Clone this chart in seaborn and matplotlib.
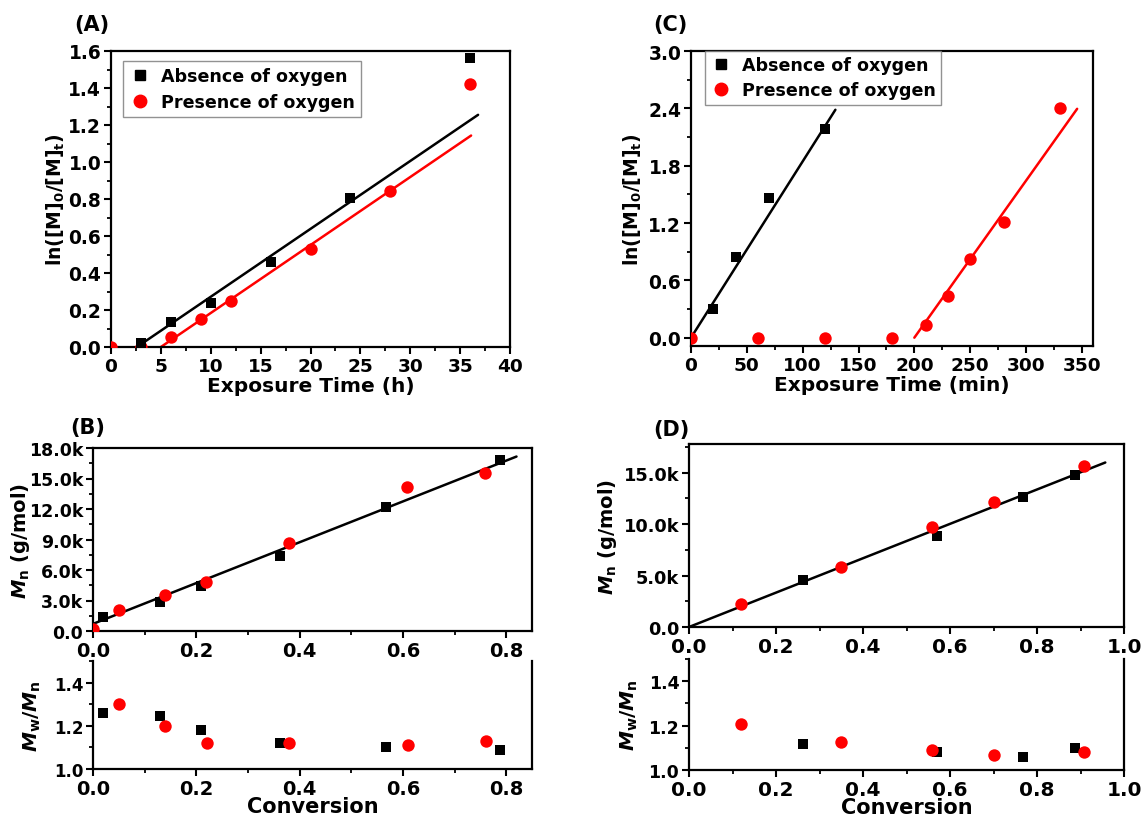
import numpy as np
import pandas as pd
import matplotlib
matplotlib.use("Agg")
import matplotlib.pyplot as plt
from matplotlib.ticker import MultipleLocator, FuncFormatter
from matplotlib.lines import Line2D
import seaborn as sns

# ---------------- data ----------------
# (A) kinetics, exposure time in hours
a_abs_t = [3, 6, 10, 16, 24, 36]
a_abs_ln = [0.02, 0.135, 0.237, 0.457, 0.805, 1.56]
a_pre_t = [0, 3, 6, 9, 12, 20, 28, 36]
a_pre_ln = [0.0, 0.0, 0.054, 0.15, 0.249, 0.529, 0.843, 1.423]
a_fit_abs_t = [2.6, 36.8]
a_fit_abs_ln = [0.0, 1.255]
a_fit_pre_t = [5.0, 36.1]
a_fit_pre_ln = [0.0, 1.143]

# (C) kinetics, exposure time in minutes
c_abs_t = [20, 40, 70, 120]
c_abs_ln = [0.304, 0.846, 1.46, 2.185]
c_pre_t = [0, 60, 120, 180, 210, 230, 250, 280, 330]
c_pre_ln = [0.0, 0.0, 0.0, 0.0, 0.129, 0.437, 0.822, 1.206, 2.406]
c_fit_abs_t = [0, 129.3]
c_fit_abs_ln = [0.0, 2.385]
c_fit_pre_t = [200, 345.8]
c_fit_pre_ln = [0.0, 2.395]

# (B) molecular weight vs conversion
b_abs_conv = [0.02, 0.13, 0.21, 0.363, 0.567, 0.788]
b_abs_mn = [1400, 2860, 4390, 7420, 12240, 16860]
b_abs_pdi = [1.26, 1.244, 1.181, 1.121, 1.10, 1.09]
b_pre_conv = [0.0, 0.05, 0.14, 0.218, 0.379, 0.608, 0.759]
b_pre_mn = [200, 2100, 3500, 4800, 8630, 14160, 15560]
b_pre_pdi_conv = [0.05, 0.14, 0.22, 0.38, 0.61, 0.76]
b_pre_pdi = [1.30, 1.20, 1.12, 1.12, 1.11, 1.13]
b_fit_conv = [0.0, 0.82]
b_fit_mn = [700, 17160]

# (D) molecular weight vs conversion
d_abs_conv = [0.262, 0.57, 0.767, 0.888]
d_abs_mn = [4580, 8900, 12660, 14740]
d_abs_pdi = [1.119, 1.081, 1.058, 1.098]
d_pre_conv = [0.12, 0.349, 0.559, 0.70, 0.908]
d_pre_mn = [2200, 5870, 9690, 12170, 15660]
d_pre_pdi = [1.206, 1.127, 1.089, 1.067, 1.079]
d_fit_conv = [0.0, 0.957]
d_fit_mn = [0, 16000]

labels = ["Absence of oxygen", "Presence of oxygen"]

# ---------------- style ----------------
sns.set_theme(style="ticks")
plt.rcParams["font.family"] = ["DejaVu Sans"]
plt.rcParams["font.weight"] = "bold"
plt.rcParams["axes.labelweight"] = "bold"
plt.rcParams["text.color"] = "black"
plt.rcParams["axes.labelcolor"] = "black"
plt.rcParams["xtick.color"] = "black"
plt.rcParams["ytick.color"] = "black"
plt.rcParams["axes.edgecolor"] = "black"
plt.rcParams["mathtext.fontset"] = "custom"
plt.rcParams["mathtext.rm"] = "DejaVu Sans:bold"
plt.rcParams["mathtext.it"] = "DejaVu Sans:italic:bold"
plt.rcParams["mathtext.bf"] = "DejaVu Sans:bold"

RED = "#ff0000"
W, H = 1142, 820
fig = plt.figure(figsize=(W / 100, H / 100), dpi=100)


def add_box(x0, y0, x1, y1):
    return fig.add_axes([x0 / W, 1 - y1 / H, (x1 - x0) / W, (y1 - y0) / H])


def style_axes(ax, xsize, ysize, top=True):
    for side in ["left", "bottom", "right", "top"]:
        ax.spines[side].set_linewidth(1.6)
        ax.spines[side].set_color("black")
    if not top:
        ax.spines["top"].set_visible(False)
    ax.tick_params(which="major", direction="out", length=5, width=1.5,
                   colors="black", top=False, right=False)
    ax.tick_params(which="minor", direction="out", length=3, width=1.3,
                   colors="black", top=False, right=False)
    ax.tick_params(axis="x", labelsize=xsize, pad=2)
    ax.tick_params(axis="y", labelsize=ysize, pad=2)
    for lab in ax.get_xticklabels() + ax.get_yticklabels():
        lab.set_fontweight("bold")
    ax.set_facecolor("white")


def pts(ax, x, y, kind, size=None, zorder=3):
    if kind == "abs":
        sns.scatterplot(x=x, y=y, ax=ax, marker="s", color="black",
                        s=size or 58, linewidth=0, zorder=zorder, legend=False)
    else:
        sns.scatterplot(x=x, y=y, ax=ax, marker="o", color=RED,
                        s=size or 80, linewidth=0, zorder=zorder, legend=False)


def fit(ax, x, y, color):
    sns.lineplot(x=x, y=y, ax=ax, color=color, linewidth=1.8,
                 zorder=2, estimator=None, sort=False)


def kfmt(v, _):
    if abs(v) < 1e-9:
        return "0.0"
    return f"{v / 1000:.1f}k"


handles = [
    Line2D([], [], marker="s", color="black", linestyle="none", markersize=7.5),
    Line2D([], [], marker="o", color=RED, linestyle="none", markersize=9),
]

# ---------------- (A) ----------------
axA = add_box(111, 52, 510, 348)
pts(axA, a_pre_t, a_pre_ln, "pre", zorder=3)
pts(axA, a_abs_t, a_abs_ln, "abs", zorder=4)
fit(axA, a_fit_abs_t, a_fit_abs_ln, "black")
fit(axA, a_fit_pre_t, a_fit_pre_ln, RED)
axA.set_xlim(0, 40)
axA.set_ylim(0, 1.6)
axA.xaxis.set_major_locator(MultipleLocator(5))
axA.xaxis.set_minor_locator(MultipleLocator(2.5))
axA.yaxis.set_major_locator(MultipleLocator(0.2))
axA.yaxis.set_minor_locator(MultipleLocator(0.1))
axA.xaxis.set_major_formatter(FuncFormatter(lambda v, _: f"{v:.0f}"))
axA.yaxis.set_major_formatter(FuncFormatter(lambda v, _: f"{v:.1f}"))
style_axes(axA, 13.3, 13.4)
axA.set_xlabel("Exposure Time (h)", fontsize=14.5, fontweight="bold", labelpad=1)
axA.set_ylabel(r"ln([M]$_\mathrm{0}$/[M]$_\mathrm{t}$)", fontsize=13.5,
               fontweight="bold", labelpad=1)
legA = axA.legend(handles, labels, loc="upper left", bbox_to_anchor=(0.03, 0.965),
                  frameon=True, fancybox=False, edgecolor="#777777",
                  prop={"size": 12.6, "weight": "bold"}, handletextpad=0.6,
                  borderpad=0.35, labelspacing=0.45, handlelength=1.2,
                  borderaxespad=0)
legA.get_frame().set_linewidth(1.0)
fig.text(74 / W, 1 - 25 / H, "(A)", fontsize=15, fontweight="bold", va="center")

# ---------------- (C) ----------------
axC = add_box(691, 52, 1093, 347)
pts(axC, c_abs_t, c_abs_ln, "abs", zorder=3)
pts(axC, c_pre_t, c_pre_ln, "pre", zorder=4)
fit(axC, c_fit_abs_t, c_fit_abs_ln, "black")
fit(axC, c_fit_pre_t, c_fit_pre_ln, RED)
axC.set_xlim(0, 360)
axC.set_ylim(-0.087, 3.0)
axC.xaxis.set_major_locator(MultipleLocator(50))
axC.xaxis.set_minor_locator(MultipleLocator(25))
axC.yaxis.set_major_locator(MultipleLocator(0.6))
axC.yaxis.set_minor_locator(MultipleLocator(0.3))
axC.xaxis.set_major_formatter(FuncFormatter(lambda v, _: f"{v:.0f}"))
axC.yaxis.set_major_formatter(FuncFormatter(lambda v, _: f"{v:.1f}"))
style_axes(axC, 13.3, 13.4)
axC.set_xlabel("Exposure Time (min)", fontsize=14.5, fontweight="bold", labelpad=1)
axC.set_ylabel(r"ln([M]$_\mathrm{0}$/[M]$_\mathrm{t}$)", fontsize=13.5,
               fontweight="bold", labelpad=3)
legC = axC.legend(handles, labels, loc="upper left", bbox_to_anchor=(0.035, 1.0),
                  frameon=True, fancybox=False, edgecolor="#777777",
                  prop={"size": 12.6, "weight": "bold"}, handletextpad=0.6,
                  borderpad=0.3, labelspacing=0.4, handlelength=1.2,
                  borderaxespad=0)
legC.get_frame().set_linewidth(1.0)
fig.text(653 / W, 1 - 25 / H, "(C)", fontsize=15, fontweight="bold", va="center")

# ---------------- (B) ----------------
axB = add_box(93, 449, 532, 632)
pts(axB, b_abs_conv, b_abs_mn, "abs", zorder=3)
pts(axB, b_pre_conv, b_pre_mn, "pre", zorder=4)
fit(axB, b_fit_conv, b_fit_mn, "black")
axB.set_xlim(0, 0.85)
axB.set_ylim(0, 18000)
axB.xaxis.set_major_locator(MultipleLocator(0.2))
axB.xaxis.set_minor_locator(MultipleLocator(0.1))
axB.yaxis.set_major_locator(MultipleLocator(3000))
axB.yaxis.set_minor_locator(MultipleLocator(1500))
axB.xaxis.set_major_formatter(FuncFormatter(lambda v, _: f"{v:.1f}"))
axB.yaxis.set_major_formatter(FuncFormatter(kfmt))
style_axes(axB, 14, 12.5)
axB.set_ylabel(r"$M_\mathrm{n}$ (g/mol)", fontsize=14, fontweight="bold", labelpad=-2)
fig.text(70 / W, 1 - 428 / H, "(B)", fontsize=15, fontweight="bold", va="center")

axBb = add_box(93, 662, 532, 770)
pts(axBb, b_abs_conv, b_abs_pdi, "abs", zorder=3)
pts(axBb, b_pre_pdi_conv, b_pre_pdi, "pre", zorder=4)
axBb.set_xlim(0, 0.85)
axBb.set_ylim(1.0, 1.5)
axBb.xaxis.set_major_locator(MultipleLocator(0.2))
axBb.xaxis.set_minor_locator(MultipleLocator(0.1))
axBb.yaxis.set_major_locator(MultipleLocator(0.2))
axBb.yaxis.set_minor_locator(MultipleLocator(0.1))
axBb.xaxis.set_major_formatter(FuncFormatter(lambda v, _: f"{v:.1f}"))
axBb.yaxis.set_major_formatter(FuncFormatter(lambda v, _: f"{v:.1f}"))
style_axes(axBb, 14, 12, top=False)
axBb.set_xlabel("Conversion", fontsize=15, fontweight="bold", labelpad=-1)
axBb.set_ylabel(r"$M_\mathrm{w}/M_\mathrm{n}$", fontsize=14.5, fontweight="bold", labelpad=8)

# ---------------- (D) ----------------
axD = add_box(689, 445, 1124, 628)
pts(axD, d_abs_conv, d_abs_mn, "abs", zorder=3)
pts(axD, d_pre_conv, d_pre_mn, "pre", zorder=4)
fit(axD, d_fit_conv, d_fit_mn, "black")
axD.set_xlim(0, 1.0)
axD.set_ylim(0, 17800)
axD.xaxis.set_major_locator(MultipleLocator(0.2))
axD.xaxis.set_minor_locator(MultipleLocator(0.1))
axD.yaxis.set_major_locator(MultipleLocator(5000))
axD.yaxis.set_minor_locator(MultipleLocator(2500))
axD.xaxis.set_major_formatter(FuncFormatter(lambda v, _: f"{v:.1f}"))
axD.yaxis.set_major_formatter(FuncFormatter(kfmt))
style_axes(axD, 14.5, 12.8)
axD.set_ylabel(r"$M_\mathrm{n}$ (g/mol)", fontsize=14, fontweight="bold", labelpad=3)
fig.text(653 / W, 1 - 430 / H, "(D)", fontsize=15, fontweight="bold", va="center")

axDb = add_box(689, 660, 1124, 771)
pts(axDb, d_abs_conv, d_abs_pdi, "abs", zorder=3)
pts(axDb, d_pre_conv, d_pre_pdi, "pre", zorder=4)
axDb.set_xlim(0, 1.0)
axDb.set_ylim(1.0, 1.5)
axDb.xaxis.set_major_locator(MultipleLocator(0.2))
axDb.xaxis.set_minor_locator(MultipleLocator(0.1))
axDb.yaxis.set_major_locator(MultipleLocator(0.2))
axDb.yaxis.set_minor_locator(MultipleLocator(0.1))
axDb.xaxis.set_major_formatter(FuncFormatter(lambda v, _: f"{v:.1f}"))
axDb.yaxis.set_major_formatter(FuncFormatter(lambda v, _: f"{v:.1f}"))
style_axes(axDb, 14.5, 12.5, top=False)
axDb.set_xlabel("Conversion", fontsize=15, fontweight="bold", labelpad=-1)
axDb.set_ylabel(r"$M_\mathrm{w}/M_\mathrm{n}$", fontsize=14.5, fontweight="bold", labelpad=6)

fig.savefig("out.png", dpi=100, facecolor="white")
